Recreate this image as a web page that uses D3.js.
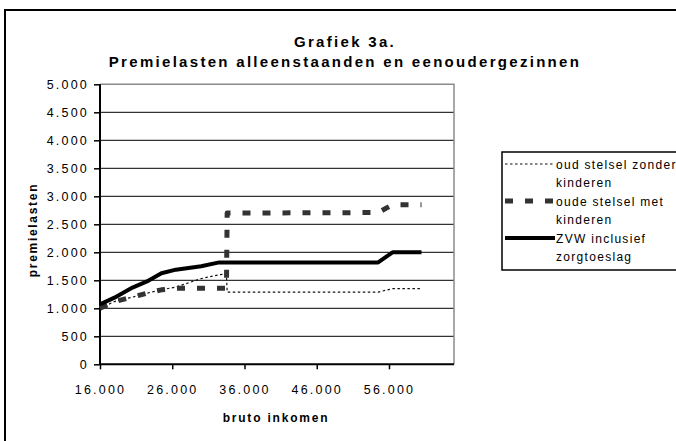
<!DOCTYPE html>
<html>
<head>
<meta charset="utf-8">
<script src="https://cdn.jsdelivr.net/npm/d3@7"></script>
<style>
  body { margin: 0; background: #fff; }
  svg text { font-family: "Liberation Sans", Arial, sans-serif; fill: #000; }
</style>
</head>
<body>
<script>
// bruto inkomen (x) and premielasten per regeling
const incomes = [16000, 18000, 20500, 22500, 24500, 26500, 30000, 32500, 33500, 33600, 54500, 56500, 60500];
const oudZonder = [1000, 1120, 1200, 1270, 1330, 1380, 1530, 1600, 1610, 1290, 1290, 1350, 1350];
const oudeMet   = [1000, 1120, 1200, 1270, 1330, 1357, 1357, 1357, 1357, 2700, 2710, 2850, 2850];
const zvw       = [1070, 1190, 1370, 1480, 1625, 1690, 1750, 1820, 1820, 1820, 1820, 2000, 2000];

const xTicks = [16000, 26000, 36000, 46000, 56000];
const yTicks = [0, 500, 1000, 1500, 2000, 2500, 3000, 3500, 4000, 4500, 5000];
const seriesNames = ['oud stelsel zonder|kinderen', 'oude stelsel met|kinderen', 'ZVW inclusief|zorgtoeslag'];

const W = 676, H = 441;
const plot = { left: 100, right: 454, top: 84.3, bottom: 364.3 };

const nl = d3.formatLocale({ decimal: ',', thousands: '.', grouping: [3], currency: ['', ''] });
const fmt = nl.format(',.0f');

const svg = d3.select('body').append('svg')
    .attr('width', W)
    .attr('height', H);

// outer chart frame
svg.append('rect')
    .attr('x', 5).attr('y', 10)
    .attr('width', 700).attr('height', 450)
    .attr('fill', '#fff')
    .attr('stroke', '#000')
    .attr('stroke-width', 2);

const x = d3.scaleLinear().domain([16000, 65000]).range([plot.left, plot.right]);
const y = d3.scaleLinear().domain([0, 5000]).range([plot.bottom, plot.top]);

// gridlines
svg.append('g')
    .selectAll('line')
    .data(yTicks.filter(d => d > 0 && d < 5000))
    .enter()
    .append('line')
    .attr('x1', plot.left).attr('x2', plot.right)
    .attr('y1', d => y(d)).attr('y2', d => y(d))
    .attr('stroke', '#000')
    .attr('stroke-width', 1);

// top and right border (grey)
svg.append('path')
    .attr('d', `M${plot.left},${plot.top}H${plot.right}V${plot.bottom}`)
    .attr('fill', 'none')
    .attr('stroke', '#8c8c8c')
    .attr('stroke-width', 1.5);

// axes
const yAxis = svg.append('g')
    .attr('transform', `translate(${plot.left},0)`)
    .call(d3.axisLeft(y).tickValues(yTicks).tickSize(6).tickPadding(5).tickFormat(fmt));
const xAxis = svg.append('g')
    .attr('transform', `translate(0,${plot.bottom})`)
    .call(d3.axisBottom(x).tickValues(xTicks).tickSize(5).tickPadding(16).tickFormat(fmt));

[yAxis, xAxis].forEach(a => {
    a.select('.domain').attr('stroke', '#000').attr('stroke-width', 2);
    a.selectAll('.tick line').attr('stroke', '#000').attr('stroke-width', 1.5);
    a.selectAll('.tick text')
        .attr('font-family', '"Liberation Sans", Arial, sans-serif')
        .attr('font-size', 12.5)
        .attr('letter-spacing', 2.2)
        .attr('fill', '#000');
});
yAxis.select('.domain').attr('d', `M0,${plot.top}V${plot.bottom}`);
xAxis.select('.domain').attr('d', `M${plot.left},0H${plot.right}`);

// series
const line = d3.line()
    .x((d, i) => x(incomes[i]))
    .y(d => y(d));

const styles = [
    { stroke: '#111', width: 1.2, dash: '2.5,2.5' },
    { stroke: '#333', width: 5, dash: '8,12' },
    { stroke: '#000', width: 4, dash: null }
];
const series = [oudZonder, oudeMet, zvw];

svg.append('g')
    .selectAll('path')
    .data(series)
    .enter()
    .append('path')
    .attr('d', line)
    .attr('fill', 'none')
    .attr('stroke', (d, i) => styles[i].stroke)
    .attr('stroke-width', (d, i) => styles[i].width)
    .attr('stroke-dasharray', (d, i) => styles[i].dash)
    .attr('stroke-linejoin', 'round');

// titles
svg.append('text')
    .attr('x', 345).attr('y', 46.5)
    .attr('text-anchor', 'middle')
    .attr('font-size', 15)
    .attr('font-weight', 'bold')
    .attr('letter-spacing', 2.3)
    .text('Grafiek 3a.');
svg.append('text')
    .attr('x', 345).attr('y', 66.5)
    .attr('text-anchor', 'middle')
    .attr('font-size', 15)
    .attr('font-weight', 'bold')
    .attr('letter-spacing', 2.3)
    .text('Premielasten alleenstaanden en eenoudergezinnen');

svg.append('text')
    .attr('transform', 'translate(37,230) rotate(-90)')
    .attr('text-anchor', 'middle')
    .attr('font-size', 12)
    .attr('font-weight', 'bold')
    .attr('letter-spacing', 1.7)
    .text('premielasten');

svg.append('text')
    .attr('x', 276).attr('y', 422)
    .attr('text-anchor', 'middle')
    .attr('font-size', 12)
    .attr('font-weight', 'bold')
    .attr('letter-spacing', 1.8)
    .text('bruto inkomen');

// legend
const legend = svg.append('g');
legend.append('rect')
    .attr('x', 502).attr('y', 152)
    .attr('width', 200).attr('height', 118)
    .attr('fill', '#fff')
    .attr('stroke', '#000')
    .attr('stroke-width', 1.5);

const items = legend.selectAll('g.item')
    .data(seriesNames)
    .enter()
    .append('g')
    .attr('class', 'item')
    .attr('transform', (d, i) => `translate(0,${i * 37})`);

items.append('line')
    .attr('x1', 505).attr('x2', 555)
    .attr('y1', 164).attr('y2', 164)
    .attr('stroke', (d, i) => styles[i].stroke)
    .attr('stroke-width', (d, i) => styles[i].width)
    .attr('stroke-dasharray', (d, i) => styles[i].dash);

items.append('text')
    .attr('x', 556).attr('y', 168.5)
    .attr('font-size', 12)
    .attr('letter-spacing', 1.3)
    .selectAll('tspan')
    .data(d => d.split('|'))
    .enter()
    .append('tspan')
    .attr('x', 556)
    .attr('dy', (d, i) => i === 0 ? 0 : 18.5)
    .text(d => d);
</script>
</body>
</html>
